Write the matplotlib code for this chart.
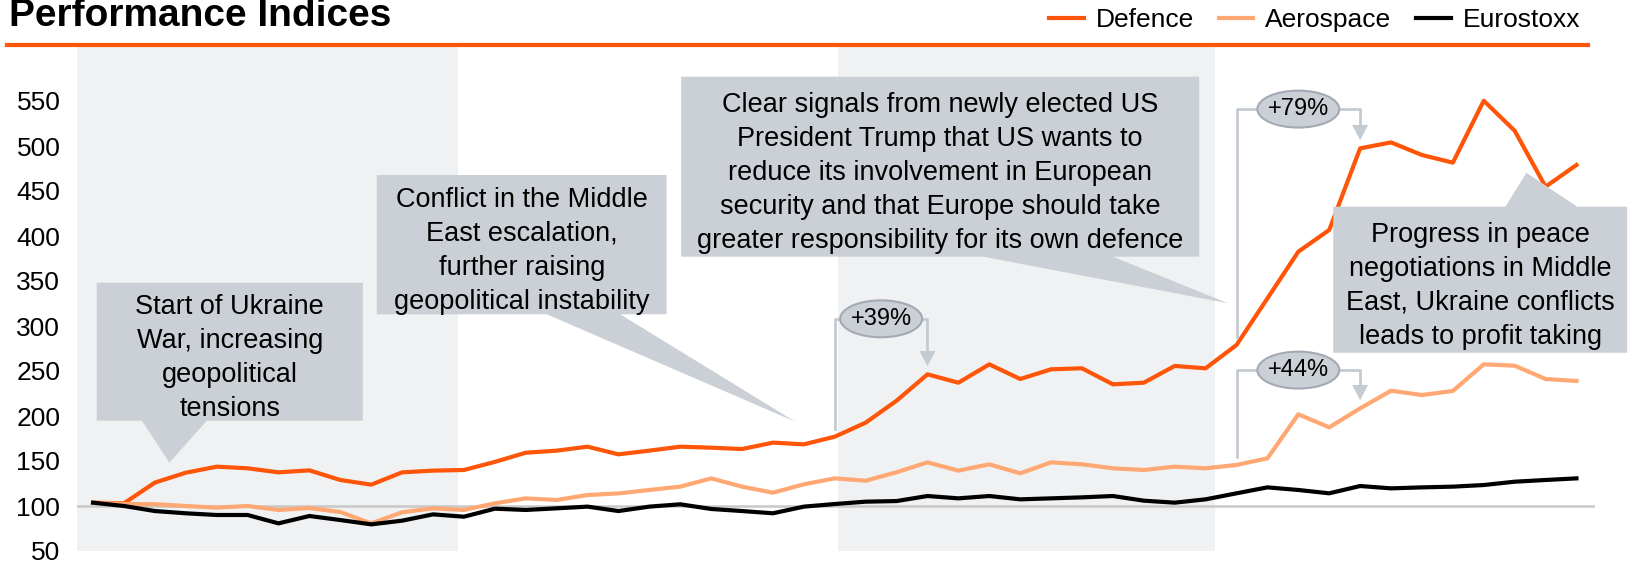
import numpy as np
import matplotlib.pyplot as plt
from matplotlib.patches import Polygon, Ellipse
from matplotlib.lines import Line2D

plt.rcParams['font.family'] = ['Liberation Sans', 'DejaVu Sans']

# --- Данные (индекс, старт ~100) ---
defence = [103.7, 103, 126, 137, 143.7, 141.9, 137.4, 139.6, 128.9, 123.7, 137.4, 139.3, 140,
           149, 159.2, 161.5, 165.9, 157.4, 161.5, 165.9, 164.8, 163.3, 170.4, 168.5, 177, 192.6, 217,
           246.3, 237, 257.4, 241.1, 251.9, 253, 235.2, 237, 255.6, 253,
           278.9, 330.7, 382.6, 406.7, 497.4, 504, 490, 481.5, 550.3, 517, 454.8, 478.9]
aerospace = [103.7, 102.2, 102, 100, 98.2, 100, 95.6, 97.8, 93.3, 80.7, 93, 97.4, 95.6,
             103, 108.5, 106.7, 112.2, 114, 117.8, 121.5, 130.7, 121.5, 114.8, 124.1, 130.7, 128.1, 137.5,
             148.5, 139.3, 146.3, 136.3, 148.5, 146.3, 141.9, 140, 143.7, 141.9,
             145.6, 153, 201.9, 187.4, 208.5, 228.1, 223.3, 227.8, 257.4, 255.9, 241.1, 238.9]
eurostoxx = [103.7, 100, 94.4, 91.9, 90, 90, 80.7, 88.9, 84.4, 79.6, 83.7, 90.7, 88.1,
             97, 95.6, 97.4, 99.3, 94.4, 99.3, 101.9, 96.7, 94.4, 91.9, 99.3, 102.2, 104.8, 105.5,
             111.1, 108.5, 111.1, 107.4, 108.5, 109.6, 111.1, 105.9, 103.7, 107.4,
             114.1, 120.7, 117.8, 114.1, 122.2, 119.6, 120.7, 121.5, 123.3, 127, 128.9, 130.7]
months = np.arange(len(defence))

names = ['Defence', 'Aerospace', 'Eurostoxx']
colors = ['#FF5508', '#FFA873', '#000000']
y_ticks = np.arange(50, 551, 50)

# периоды, выделенные серым фоном
periods = [(-0.52, 11.8), (24.1, 36.3)]

# подписи-выноски
notes = [
    "Start of Ukraine\nWar, increasing\ngeopolitical\ntensions",
    "Conflict in the Middle\nEast escalation,\nfurther raising\ngeopolitical instability",
    "Clear signals from newly elected US\nPresident Trump that US wants to\nreduce its involvement in European\n"
    "security and that Europe should take\ngreater responsibility for its own defence",
    "Progress in peace\nnegotiations in Middle\nEast, Ukraine conflicts\nleads to profit taking",
]

BOX = '#CBD0D6'
SHADE = '#F0F1F3'
BRACKET = '#C5CBD3'


def callout(ax, box, base, tip, text, side='bottom'):
    x0, x1, y0, y1 = box
    if side == 'bottom':
        pts = [(x0, y1), (x1, y1), (x1, y0), (base[1], y0), tip, (base[0], y0), (x0, y0)]
    else:
        pts = [(x0, y0), (x1, y0), (x1, y1), (base[1], y1), tip, (base[0], y1), (x0, y1)]
    ax.add_patch(Polygon(pts, closed=True, facecolor=BOX, edgecolor='none', zorder=5, clip_on=False))
    # текст чуть ниже геометрического центра, как в оригинале
    ax.text((x0 + x1) / 2, (y0 + y1) / 2 - 7, text, ha='center', va='center',
            fontsize=19.5, linespacing=1.4, zorder=6, clip_on=False)


def bracket(ax, series, i0, i1, top, label):
    gap, head = 9, 17
    lo = series[i0] + gap
    hi = series[i1] + gap
    ax.plot([i0, i0, i1, i1], [lo, top, top, hi + head], color=BRACKET, lw=2, zorder=4)
    ax.add_patch(Polygon([(i1 - 0.26, hi + head), (i1 + 0.26, hi + head), (i1, hi)],
                         closed=True, facecolor=BRACKET, edgecolor='none', zorder=4))
    cx = (i0 + i1) / 2
    ax.add_patch(Ellipse((cx, top), 2.65, 41, facecolor=BOX, edgecolor='#A3AAB4', lw=1.5, zorder=6))
    ax.text(cx, top, label, ha='center', va='center', fontsize=17, zorder=7)


fig = plt.figure(figsize=(16.38, 5.63), dpi=100)
ax = fig.add_axes([77 / 1638, 12 / 563, 1518 / 1638, 504 / 563])

for a, b in periods:
    ax.axvspan(a, b, color=SHADE, lw=0, zorder=0)
ax.axhline(100, color='#C8C8C8', lw=1.8, zorder=1)

for data, name, c in zip([defence, aerospace, eurostoxx], names, colors):
    ax.plot(months, data, color=c, lw=3, label=name, zorder=3)

ax.set_xlim(-0.52, 48.6)
ax.set_ylim(50, 610)
ax.set_xticks([])
ax.set_yticks(y_ticks)
ax.tick_params(axis='y', length=0, labelsize=19, pad=12)
for s in ax.spines.values():
    s.set_visible(False)

callout(ax, (0.12, 8.73, 194.8, 348.1), (1.58, 3.68), (2.47, 148.1), notes[0])
callout(ax, (9.18, 18.56, 313, 467.8), (14.68, 17.06), (22.72, 193.7), notes[1])
callout(ax, (19.03, 35.79, 377, 577), (28.8, 33.0), (36.73, 325.2), notes[2])
callout(ax, (40.13, 49.64, 270.3, 432.6), (45.7, 48.02), (46.38, 470.3), notes[3], side='top')

bracket(ax, defence, 24, 27, 308, '+39%')
bracket(ax, defence, 37, 41, 541, '+79%')
bracket(ax, aerospace, 37, 41, 251, '+44%')

# --- Заголовок, линия, легенда ---
fig.text(9 / 1638, 1 - 26 / 563, 'Performance Indices', fontsize=28, fontweight='bold', va='baseline')
fig.add_artist(Line2D([7 / 1638, 1588 / 1638], [1 - 45 / 563] * 2, color='#FF5508', lw=3))
fig.legend(loc='center right', bbox_to_anchor=(1580 / 1638, 1 - 20 / 563), ncol=3, frameon=False,
           fontsize=19, handlelength=1.3, handletextpad=0.45, columnspacing=0.95,
           borderpad=0, borderaxespad=0)

fig.savefig('out.png', dpi=100)
